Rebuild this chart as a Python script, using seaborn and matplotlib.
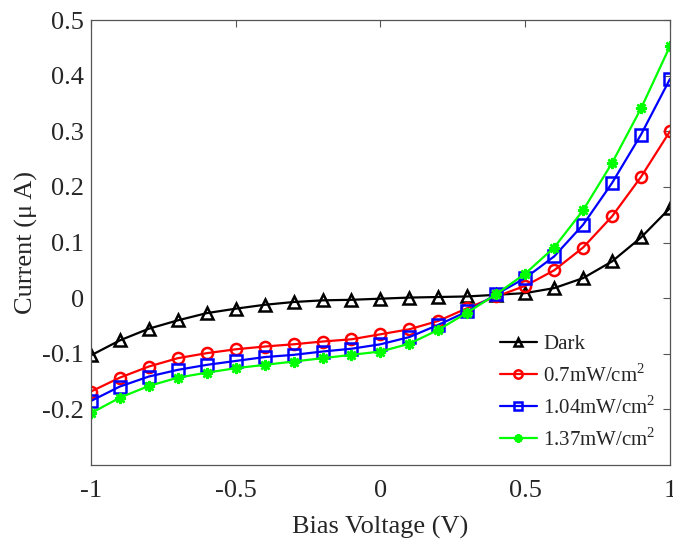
import numpy as np
import pandas as pd
import matplotlib
matplotlib.use("Agg")
import matplotlib.pyplot as plt
import seaborn as sns

voltage = [-1.0, -0.9, -0.8, -0.7, -0.6, -0.5, -0.4, -0.3, -0.2, -0.1, 0.0,
           0.1, 0.2, 0.3, 0.4, 0.5, 0.6, 0.7, 0.8, 0.9, 1.0]
dark = [-0.103, -0.076, -0.055, -0.040, -0.027, -0.019, -0.012, -0.007, -0.004, -0.003, -0.001,
        0.001, 0.002, 0.003, 0.006, 0.009, 0.018, 0.036, 0.066, 0.109, 0.162]
p07 = [-0.168, -0.143, -0.123, -0.108, -0.099, -0.092, -0.087, -0.083, -0.078, -0.074, -0.065,
       -0.056, -0.041, -0.018, 0.003, 0.022, 0.050, 0.091, 0.147, 0.218, 0.300]
p104 = [-0.185, -0.159, -0.141, -0.129, -0.120, -0.113, -0.106, -0.102, -0.096, -0.091, -0.083,
        -0.070, -0.048, -0.024, 0.007, 0.036, 0.075, 0.132, 0.207, 0.294, 0.394]
p137 = [-0.207, -0.179, -0.158, -0.143, -0.134, -0.126, -0.120, -0.114, -0.108, -0.102, -0.096,
        -0.082, -0.057, -0.026, 0.007, 0.044, 0.091, 0.158, 0.243, 0.341, 0.453]

labels = ["Dark", "0.7mW/cm$^2$", "1.04mW/cm$^2$", "1.37mW/cm$^2$"]
colors = ["#000000", "#ff0000", "#0000ff", "#00ff00"]
markers = ["^", "o", "s", (8, 2, 0)]
series = [dark, p07, p104, p137]

sns.set_style("white")
plt.rcParams["font.family"] = ["Liberation Serif", "DejaVu Serif"]
plt.rcParams["mathtext.fontset"] = "custom"
plt.rcParams["mathtext.rm"] = "Liberation Serif"
plt.rcParams["axes.unicode_minus"] = False

fig = plt.figure(figsize=(6.73, 5.41), dpi=100)
ax = fig.add_axes([0.135, 0.1405, 0.8605, 0.8225])

for i, (lab, col, mk, ys) in enumerate(zip(labels, colors, markers, series)):
    df = pd.DataFrame({"V": voltage, "I": ys})
    star = i == 3
    sns.lineplot(data=df, x="V", y="I", ax=ax, color=col, linewidth=1.6,
                 marker=mk, markersize=8,
                 markerfacecolor=col if star else "none",
                 markeredgecolor=col, markeredgewidth=1.8,
                 label=lab)

ax.set_xlim(-1, 1)
ax.set_ylim(-0.3, 0.5)
ax.set_xticks([-1, -0.5, 0, 0.5, 1])
ax.set_xticklabels(["-1", "-0.5", "0", "0.5", "1"])
ax.set_yticks([-0.2, -0.1, 0, 0.1, 0.2, 0.3, 0.4, 0.5])
ax.set_yticklabels(["-0.2", "-0.1", "0", "0.1", "0.2", "0.3", "0.4", "0.5"])
ax.tick_params(direction="in", length=5, width=0.8, color="#555555",
               top=True, right=True, labelsize=19)
ax.tick_params(axis="x", pad=11)
ax.tick_params(axis="y", pad=5)
for s in ax.spines.values():
    s.set_color("#555555")
    s.set_linewidth(0.9)

ax.set_xlabel("Bias Voltage (V)", fontsize=19, labelpad=10)
ax.set_ylabel("Current (\u03bc A)", fontsize=19, labelpad=3)

leg = ax.legend(loc="lower right", frameon=False, fontsize=15,
                handlelength=1.75, handletextpad=0.3, labelspacing=0.45,
                markerscale=0.75, borderaxespad=0.3, bbox_to_anchor=(1.0, 0.0))

fig.savefig("out.png", dpi=100)
